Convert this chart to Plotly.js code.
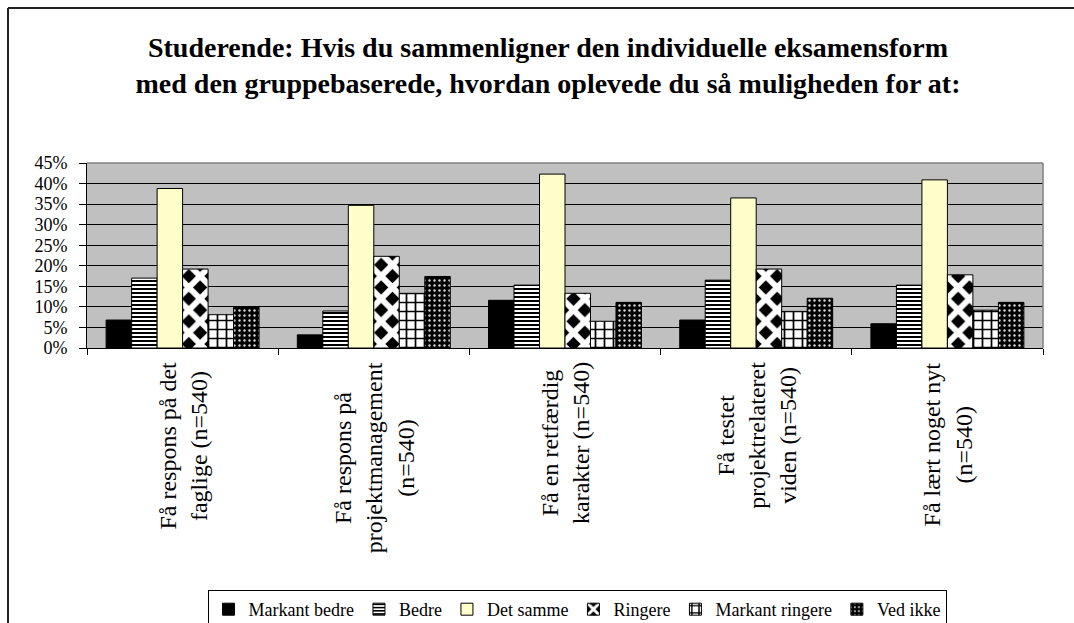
<!DOCTYPE html>
<html>
<head>
<meta charset="utf-8">
<script src="https://cdn.plot.ly/plotly-3.0.1.min.js"></script>
<style>
  html, body { margin: 0; padding: 0; background: #ffffff; }
  #chart { width: 1074px; height: 623px; }
</style>
</head>
<body>
<div id="chart"></div>
<script>
// ---- data ----
var categories = [
  "Få respons på det<br>faglige (n=540)",
  "Få respons på<br>projektmanagement<br>(n=540)",
  "Få en retfærdig<br>karakter (n=540)",
  "Få testet<br>projektrelateret<br>viden (n=540)",
  "Få lært noget nyt<br>(n=540)"
];
var seriesNames = ["Markant bedre", "Bedre", "Det samme", "Ringere", "Markant ringere", "Ved ikke"];
var markantBedre   = [6.8, 3.2, 11.6, 6.8, 5.9];
var bedre          = [17.0, 9.0, 15.3, 16.5, 15.3];
var detSamme       = [38.8, 34.7, 42.3, 36.5, 40.9];
var ringere        = [19.2, 22.3, 13.3, 19.2, 17.8];
var markantRingere = [8.1, 13.3, 6.5, 8.9, 9.2];
var vedIkke        = [9.9, 17.4, 11.1, 12.1, 11.1];
var yTickValues = [0, 5, 10, 15, 20, 25, 30, 35, 40, 45];
var titleText = "Studerende: Hvis du sammenligner den individuelle eksamensform<br>med den gruppebaserede, hvordan oplevede du så muligheden for at:";

// ---- styles ----
var FONT = 'Liberation Serif, "Times New Roman", Times, serif';
var seriesValues = [markantBedre, bedre, detSamme, ringere, markantRingere, vedIkke];
var seriesStyles = [
  {color: '#000000', pattern: null},
  {color: '#ffffff', pattern: {shape: '-', fgcolor: '#000000', bgcolor: '#ffffff', size: 4, solidity: 0.5}},
  {color: '#FFFFCC', pattern: null},
  {color: '#000000', pattern: {shape: 'x', fgcolor: '#ffffff', bgcolor: '#000000', size: 16, solidity: 0.6}},
  {color: '#ffffff', pattern: {shape: '+', fgcolor: '#000000', bgcolor: '#ffffff', size: 9, solidity: 0.35}},
  {color: '#000000', pattern: {shape: '.', fgcolor: '#d8d8d8', bgcolor: '#000000', size: 5, solidity: 0.18}}
];

var traces = seriesNames.map(function(name, i) {
  var m = {color: seriesStyles[i].color, line: {color: '#000000', width: 1}};
  if (seriesStyles[i].pattern) m.pattern = seriesStyles[i].pattern;
  return {
    type: 'bar',
    name: name,
    x: categories,
    y: seriesValues[i],
    marker: m,
    hoverinfo: 'x+y+name'
  };
});

// plot area: x 87..1043, y 163..348
var M = {l: 87, r: 31, t: 163, b: 275, autoexpand: false};
var PW = 1074 - M.l - M.r, PH = 623 - M.t - M.b;
function px2x(p) { return (p - M.l) / PW; }
function py2y(p) { return (623 - M.b - p) / PH; }

var annotations = categories.map(function(c) {
  return {
    x: c, xref: 'x',
    y: py2y(360), yref: 'paper',
    text: c, showarrow: false,
    textangle: -90,
    xanchor: 'center', yanchor: 'top',
    align: 'center',
    font: {family: FONT, size: 24, color: '#000000'}
  };
});

var layout = {
  width: 1074, height: 623,
  margin: M,
  paper_bgcolor: '#ffffff',
  plot_bgcolor: '#C0C0C0',
  font: {family: FONT, color: '#000000'},
  title: {
    text: titleText,
    font: {family: FONT, size: 28, color: '#000000', weight: 'bold'},
    xref: 'container', x: 548 / 1074, xanchor: 'center',
    yref: 'container', y: 1 - 57 / 623, yanchor: 'top',
    pad: {t: 0, b: 0, l: 0, r: 0}
  },
  barmode: 'group',
  bargap: 0.2,
  bargroupgap: 0,
  showlegend: true,
  legend: {
    orientation: 'h',
    x: px2x(577), xanchor: 'center',
    y: py2y(590), yanchor: 'top',
    bgcolor: '#ffffff',
    bordercolor: '#000000', borderwidth: 1,
    font: {family: FONT, size: 18, color: '#000000'},
    traceorder: 'normal',
    itemwidth: 30
  },
  xaxis: {
    type: 'category',
    showticklabels: false,
    ticks: 'outside', ticklen: 6, tickcolor: '#000000', tickwidth: 1,
    tickson: 'boundaries',
    showline: true, linecolor: '#000000', linewidth: 1,
    showgrid: false, zeroline: false, fixedrange: true
  },
  yaxis: {
    range: [0, 45],
    tickvals: yTickValues,
    ticktext: yTickValues.map(function(v){ return v + '%'; }),
    ticks: 'outside', ticklen: 7, tickcolor: '#000000', tickwidth: 1,
    ticklabelstandoff: 8,
    tickfont: {family: FONT, size: 18, color: '#000000'},
    showline: true, linecolor: '#000000', linewidth: 1,
    showgrid: true, gridcolor: '#000000', gridwidth: 1,
    zeroline: false, fixedrange: true
  },
  shapes: [
    // grey plot-area border top & right
    {type: 'line', xref: 'paper', yref: 'paper', x0: 0, x1: 1, y0: 1, y1: 1, line: {color: '#808080', width: 1.5}, layer: 'above'},
    {type: 'line', xref: 'paper', yref: 'paper', x0: 1, x1: 1, y0: 0, y1: 1, line: {color: '#808080', width: 1.5}, layer: 'above'},
    // outer chart frame (left & top)
    {type: 'line', xref: 'paper', yref: 'paper', x0: px2x(8), x1: px2x(8), y0: py2y(8), y1: py2y(640), line: {color: '#222222', width: 2}},
    {type: 'line', xref: 'paper', yref: 'paper', x0: px2x(8), x1: px2x(1090), y0: py2y(8), y1: py2y(8), line: {color: '#222222', width: 2}}
  ],
  annotations: annotations
};

Plotly.newPlot('chart', traces, layout, {displayModeBar: false, staticPlot: true});
</script>
</body>
</html>
